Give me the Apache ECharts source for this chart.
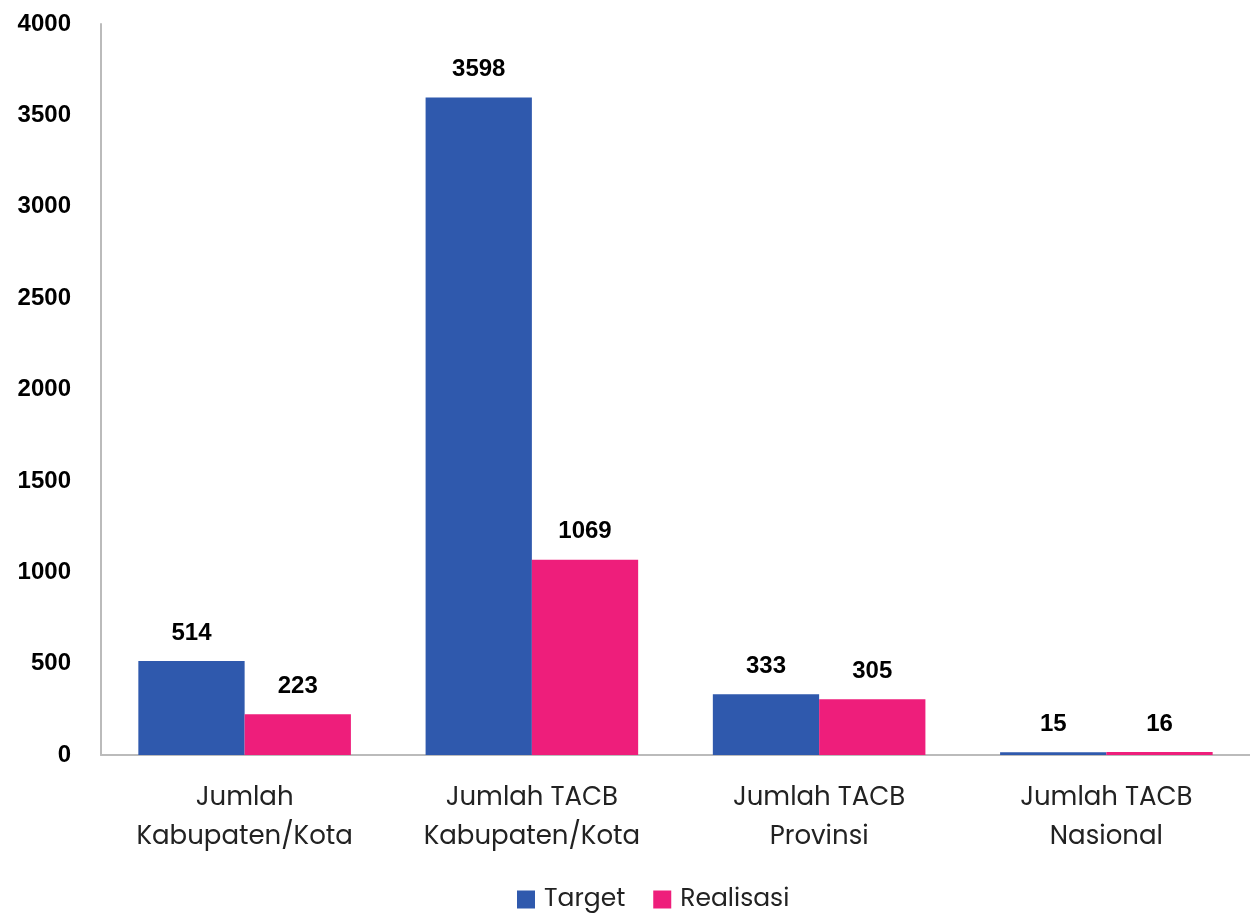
<!DOCTYPE html>
<html>
<head>
<meta charset="utf-8">
<script src="https://cdn.jsdelivr.net/npm/echarts@6/dist/echarts.min.js"></script>
<style>
  html, body { margin: 0; padding: 0; background: #fff; }
  #chart { width: 1250px; height: 913px; }
</style>
</head>
<body>
<div id="chart"></div>
<script>
const categories = [
  'Jumlah\nKabupaten/Kota',
  'Jumlah TACB\nKabupaten/Kota',
  'Jumlah TACB\nProvinsi',
  'Jumlah TACB\nNasional',
];
const target = [514, 3598, 333, 15];
const realisasi = [223, 1069, 305, 16];

const numFont = '"Liberation Sans Narrow", "Liberation Sans", Arial, sans-serif';
const txtFont = 'Poppins, "Open Sans", Lato, sans-serif';

const chart = echarts.init(document.getElementById('chart'));
const option = {
  animation: false,
  grid: { left: 101, right: 0, top: 24, bottom: 158, containLabel: false },
  legend: {
    bottom: -4,
    left: 512,
    itemWidth: 18,
    itemHeight: 18,
    itemGap: 28,
    icon: 'rect',
    textStyle: { fontFamily: txtFont, fontSize: 25, color: '#222', padding: [0, 0, 0, 4] },
    data: ['Target', 'Realisasi'],
  },
  xAxis: {
    type: 'category',
    data: categories,
    axisLine: { lineStyle: { color: '#bbb', width: 2 } },
    axisTick: { show: false },
    axisLabel: {
      fontFamily: txtFont,
      fontSize: 26,
      color: '#222',
      lineHeight: 39,
      margin: 24,
    },
  },
  yAxis: {
    type: 'value',
    min: 0,
    max: 4000,
    interval: 500,
    splitLine: { show: false },
    axisLine: { show: true, lineStyle: { color: '#bbb', width: 2 } },
    axisTick: { show: false },
    axisLabel: {
      formatter: (v) => String(v),
      fontFamily: numFont,
      fontWeight: 'bold',
      fontSize: 24,
      color: '#000',
      margin: 30,
    },
  },
  series: [
    {
      name: 'Target',
      type: 'bar',
      data: target,
      barGap: '0%',
      barCategoryGap: '26%',
      itemStyle: { color: '#2F59AD' },
      label: {
        show: true,
        position: 'top',
        distance: 16,
        fontFamily: numFont,
        fontWeight: 'bold',
        fontSize: 24,
        color: '#000',
      },
    },
    {
      name: 'Realisasi',
      type: 'bar',
      data: realisasi,
      itemStyle: { color: '#EE1E7B' },
      label: {
        show: true,
        position: 'top',
        distance: 16,
        fontFamily: numFont,
        fontWeight: 'bold',
        fontSize: 24,
        color: '#000',
      },
    },
  ],
};
chart.setOption(option);
</script>
</body>
</html>
